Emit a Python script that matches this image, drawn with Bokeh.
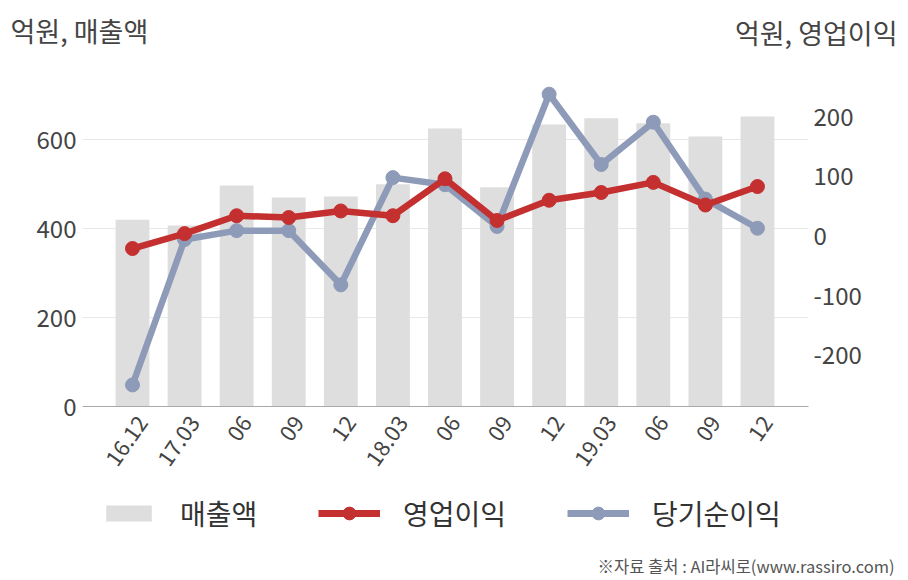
from bokeh.plotting import figure
from bokeh.models import Range1d, LinearAxis, FixedTicker, Legend, LegendItem
from bokeh.layouts import column
from bokeh.core.properties import value
from bokeh.embed import file_html
from bokeh.resources import INLINE
import numpy as np
import math

periods = ["16.12", "17.03", "06", "09", "12", "18.03", "06", "09", "12", "19.03", "06", "09", "12"]
sales = [420, 407, 497, 470, 472, 500, 625, 493, 634, 648, 637, 607, 652]
op_income = [-21, 4, 34, 31, 42, 34, 96, 26, 60, 73, 90, 52, 83]
net_income = [-250, -6, 9, 9, -82, 98, 86, 16, 238, 120, 191, 62, 13]
left_ticks = [0, 200, 400, 600]
right_ticks = [-200, -100, 0, 100, 200]
series_names = ["매출액", "영업이익", "당기순이익"]
left_title = "억원, 매출액"
right_title = "억원, 영업이익"
source_note = "※자료 출처 : AI라씨로(www.rassiro.com)"

FONT = "Noto Sans CJK KR"
TXT = "#444444"
RED = "#c3302f"
BLUE = "#8e9bb8"
BAR = "#dedede"
W = 908

idx = list(range(len(periods)))


def blank(h):
    f = figure(width=W, height=h, output_backend="svg", toolbar_location=None,
               x_range=Range1d(0, W), y_range=Range1d(h, 0),
               x_axis_type=None, y_axis_type=None, min_border=0, frame_align=False)
    f.outline_line_color = None
    return f


# header with the two axis titles
hdr = blank(60)
hdr.text(x=[10], y=[30], text=[left_title], text_font=value(FONT), text_font_size="27px",
         text_align="left", text_baseline="middle", text_color=TXT)
hdr.text(x=[897], y=[32], text=[right_title], text_font=value(FONT), text_font_size="27px",
         text_align="right", text_baseline="middle", text_color=TXT)

# main chart
p = figure(width=W, height=430, output_backend="svg", toolbar_location=None,
           x_range=Range1d(-0.96, 12.98), y_range=Range1d(0, 733), x_axis_location=None,
           min_border_left=82, min_border_right=100, min_border_top=20, min_border_bottom=84,
           frame_align=False)
p.extra_y_ranges = {"right": Range1d(-286.2, 261)}
# label range: same scale as x_range, nudged so rotated labels sit like the reference
p.extra_x_ranges = {"lab": Range1d(-0.96 - 0.19, 12.98 - 0.19)}
p.outline_line_color = None

p.vbar(x=idx, top=sales, width=0.65, color=BAR, line_color=None)
p.line(x=idx, y=net_income, y_range_name="right", line_width=6.5, color=BLUE)
p.scatter(x=idx, y=net_income, y_range_name="right", size=14, color=BLUE)
p.line(x=idx, y=op_income, y_range_name="right", line_width=6.5, color=RED)
p.scatter(x=idx, y=op_income, y_range_name="right", size=14, color=RED)

xa = LinearAxis(x_range_name="lab", ticker=FixedTicker(ticks=idx))
xa.major_label_overrides = {i: s for i, s in enumerate(periods)}
xa.major_label_orientation = math.radians(55)
xa.axis_line_color = "#aaaaaa"
xa.major_tick_line_color = None
xa.minor_tick_line_color = None
xa.major_label_text_font = FONT
xa.major_label_text_font_size = "22px"
xa.major_label_text_color = TXT
xa.major_label_standoff = 6
p.add_layout(xa, "below")

p.yaxis.ticker = FixedTicker(ticks=left_ticks)
p.yaxis.axis_line_color = None
p.yaxis.major_tick_line_color = None
p.yaxis.minor_tick_line_color = None
p.yaxis.major_tick_out = 0
p.yaxis.major_label_text_font = FONT
p.yaxis.major_label_text_font_size = "24px"
p.yaxis.major_label_text_color = TXT
p.yaxis.major_label_standoff = 6

ra = LinearAxis(y_range_name="right", ticker=FixedTicker(ticks=right_ticks))
ra.major_label_overrides = {v: str(v) for v in right_ticks}
ra.axis_line_color = None
ra.major_tick_line_color = None
ra.minor_tick_line_color = None
ra.major_tick_out = 0
ra.major_label_text_font = FONT
ra.major_label_text_font_size = "24px"
ra.major_label_text_color = TXT
ra.major_label_standoff = 5
p.add_layout(ra, "right")

p.xgrid.grid_line_color = None
p.ygrid.grid_line_color = "#e8e8e8"
p.ygrid.grid_line_width = 1

# footer: legends + source note (legend proxies hold a single NaN so they draw nothing)
ftr = blank(90)
nan = np.array([np.nan])
lb = ftr.vbar(x=nan, top=nan, width=0.65, color=BAR, line_color=None)
lrl = ftr.line(x=nan, y=nan, line_width=7, color=RED)
lrm = ftr.scatter(x=nan, y=nan, size=14, color=RED)
lbl = ftr.line(x=nan, y=nan, line_width=7, color=BLUE)
lbm = ftr.scatter(x=nan, y=nan, size=14, color=BLUE)


def style_legend(lg, gw, gh):
    lg.label_text_font = FONT
    lg.label_text_font_size = "28px"
    lg.label_text_color = "#333333"
    lg.label_standoff = 23
    lg.spacing = 61
    lg.padding = 0
    lg.margin = 0
    lg.glyph_width = gw
    lg.glyph_height = gh
    lg.border_line_color = None
    lg.background_fill_alpha = 0


leg_bar = Legend(items=[LegendItem(label=series_names[0], renderers=[lb])],
                 orientation="horizontal", location=(100, 47))
style_legend(leg_bar, 57, 20)
leg_lines = Legend(items=[
    LegendItem(label=series_names[1], renderers=[lrl, lrm]),
    LegendItem(label=series_names[2], renderers=[lbl, lbm]),
], orientation="horizontal", location=(318, 47))
style_legend(leg_lines, 62, 32)
ftr.add_layout(leg_bar, "center")
ftr.add_layout(leg_lines, "center")

ftr.text(x=[894], y=[75], text=[source_note], text_font=value(FONT), text_font_size="16.5px",
         text_align="right", text_baseline="middle", text_color="#555555")

layout = column(hdr, p, ftr, spacing=0)
open("out.html", "w").write(file_html(layout, INLINE))
